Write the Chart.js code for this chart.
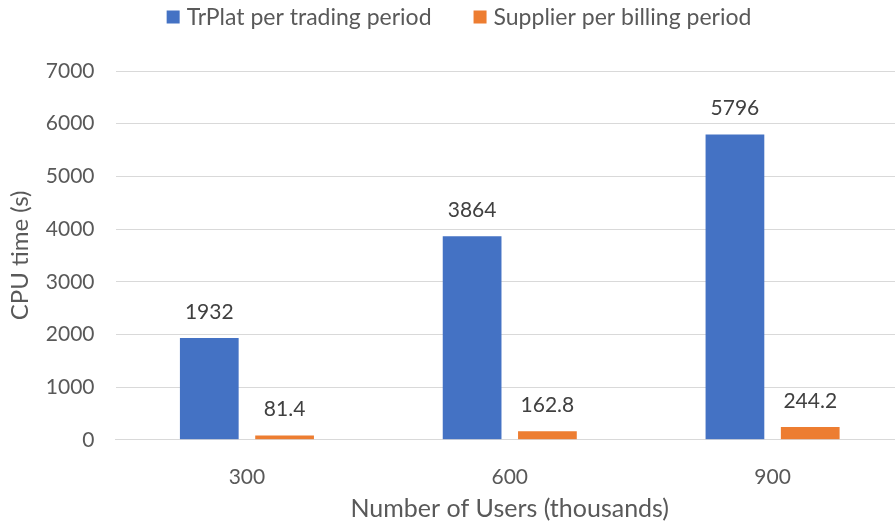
<!DOCTYPE html>
<html>
<head>
<meta charset="utf-8">
<script src="https://cdn.jsdelivr.net/npm/chart.js@4"></script>
<style>
  body { margin: 0; background: #fff; overflow: hidden; }
  /* the original plot runs a few px past the right edge of the picture */
  #wrap { width: 904px; height: 524px; }
</style>
</head>
<body>
<div id="wrap"><canvas id="c"></canvas></div>
<script>
// data
var users = ["300", "600", "900"];
var trplat = [1932, 3864, 5796];
var supplier = [81.4, 162.8, 244.2];
var seriesNames = ["TrPlat per trading period", "Supplier per billing period"];
var seriesColors = ["#4472C4", "#ED7D31"];

var FONT = "Lato, 'Open Sans', sans-serif";
var TEXT = "#595959";

// value labels above each bar
var valueLabels = {
    id: "valueLabels",
    afterDatasetsDraw: function(chart){
        var ctx = chart.ctx;
        ctx.save();
        ctx.font = "21px " + FONT;
        ctx.fillStyle = "#404040";
        ctx.textAlign = "center";
        ctx.textBaseline = "middle";
        chart.data.datasets.forEach(function(ds, i){
            chart.getDatasetMeta(i).data.forEach(function(bar, j){
                ctx.fillText(String(ds.data[j]), bar.x, bar.y - 26);
            });
        });
        ctx.restore();
    }
};

// office-style legend: small square, wide gap between entries
var topLegend = {
    id: "topLegend",
    afterDraw: function(chart){
        var ctx = chart.ctx;
        ctx.save();
        ctx.font = "23px " + FONT;
        ctx.textBaseline = "middle";
        var box = 13, gap = 7, between = 42;
        var widths = chart.data.datasets.map(ds => box + gap + ctx.measureText(ds.label).width);
        var total = widths.reduce((a, b) => a + b, 0) + between * (widths.length - 1);
        var x = chart.width / 2 + 7 - total / 2;
        var y = 17;
        chart.data.datasets.forEach(function(ds, i){
            ctx.fillStyle = ds.backgroundColor;
            ctx.fillRect(x, y - box / 2, box, box);
            ctx.fillStyle = TEXT;
            ctx.fillText(ds.label, x + box + gap, y + 1);
            x += widths[i] + between;
        });
        ctx.restore();
    }
};

new Chart(document.getElementById("c"), {
    type: "bar",
    data: {
        labels: users,
        datasets: [{
            label: seriesNames[0],
            data: trplat,
            backgroundColor: seriesColors[0]
        }, {
            label: seriesNames[1],
            data: supplier,
            backgroundColor: seriesColors[1]
        }]
    },
    options: {
        responsive: true,
        maintainAspectRatio: false,
        animation: false,
        categoryPercentage: 0.573,
        barPercentage: 0.78,
        layout: { padding: { top: 71, right: 0, left: 0, bottom: 0 } },
        plugins: {
            legend: { display: false },
            tooltip: { enabled: false }
        },
        scales: {
            x: {
                grid: { display: false },
                border: { color: "#d9d9d9", width: 1 },
                ticks: { color: TEXT, padding: 17, font: { family: FONT, size: 21 } },
                title: {
                    display: true,
                    text: "Number of Users (thousands)",
                    color: TEXT,
                    padding: { top: -13, bottom: 0 },
                    font: { family: FONT, size: 25 }
                }
            },
            y: {
                min: 0,
                max: 7000,
                ticks: {
                    stepSize: 1000,
                    color: TEXT,
                    padding: 21,
                    font: { family: FONT, size: 21 },
                    callback: function(v){ return String(v); }
                },
                grid: { color: "#d9d9d9", drawTicks: false },
                border: { display: false },
                title: {
                    display: true,
                    text: "CPU time (s)",
                    color: TEXT,
                    padding: { top: 6, bottom: -10 },
                    font: { family: FONT, size: 24 }
                }
            }
        }
    },
    plugins: [valueLabels, topLegend]
});
</script>
</body>
</html>
